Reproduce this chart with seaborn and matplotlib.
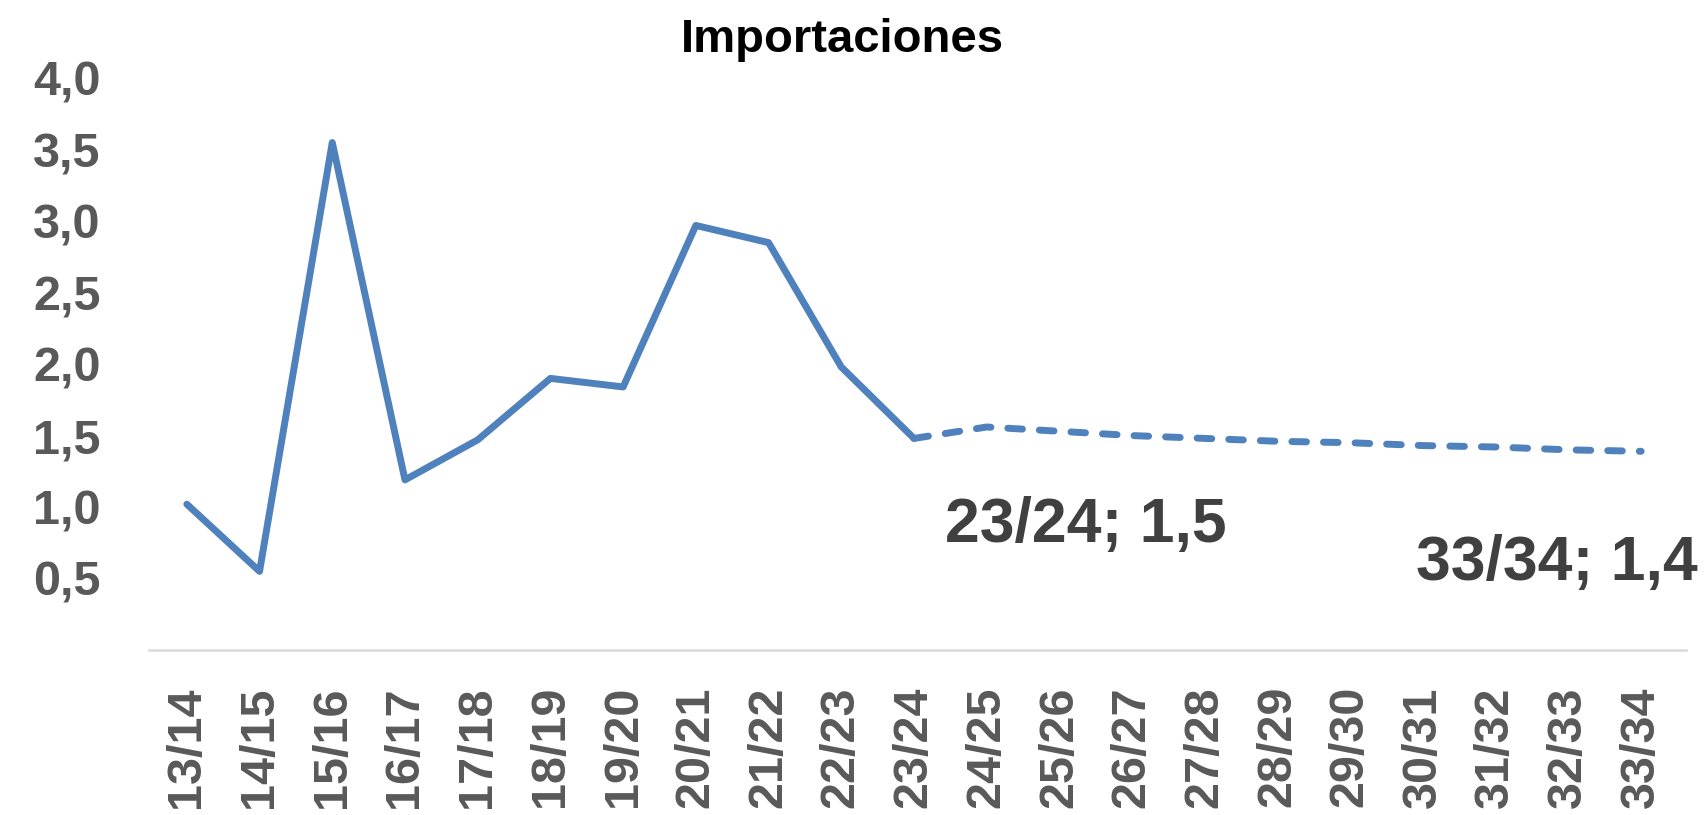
import matplotlib
matplotlib.use("Agg")
import matplotlib.pyplot as plt
import seaborn as sns
import pandas as pd

periodos = ["13/14", "14/15", "15/16", "16/17", "17/18", "18/19", "19/20",
            "20/21", "21/22", "22/23", "23/24", "24/25", "25/26", "26/27",
            "27/28", "28/29", "29/30", "30/31", "31/32", "32/33", "33/34"]
historico = [1.02, 0.55, 3.55, 1.19, 1.47, 1.90, 1.84, 2.97, 2.85, 1.98, 1.48]
proyeccion = [1.48, 1.56, 1.53, 1.50, 1.48, 1.46, 1.45, 1.43, 1.42, 1.40, 1.39]
y_ticks = [0.5, 1.0, 1.5, 2.0, 2.5, 3.0, 3.5, 4.0]

n_hist = len(historico)
df_hist = pd.DataFrame({"x": range(n_hist), "valor": historico})
df_proy = pd.DataFrame({"x": range(n_hist - 1, len(periodos)), "valor": proyeccion})

sns.set_theme(style="white")
plt.rcParams['font.family'] = ['Liberation Sans', 'DejaVu Sans']
plt.rcParams['font.weight'] = 'bold'

azul = "#4F81BD"
fig = plt.figure(figsize=(17.05, 8.15), dpi=100)
ax = fig.add_axes([0.0874, 0.2025, 0.9016, 0.7015])

sns.lineplot(data=df_hist, x="x", y="valor", ax=ax, color=azul, lw=5,
             solid_capstyle="round", solid_joinstyle="round")
sns.lineplot(data=df_proy, x="x", y="valor", ax=ax, color=azul, lw=5,
             linestyle=(0, (2.1, 2.45)), dash_capstyle="round")

ax.set_xlim(-0.52, 20.62)
ax.set_ylim(0, 4.0)
ax.set_xticks(range(len(periodos)))
ax.set_xticklabels(periodos, rotation=90, fontsize=35, fontweight="bold", color="#595959")
ax.set_yticks(y_ticks)
ax.set_yticklabels([f"{v:.1f}".replace(".", ",") for v in y_ticks],
                   fontsize=35, fontweight="bold", color="#595959")
ax.tick_params(axis="x", length=0, pad=26)
ax.tick_params(axis="y", length=0, pad=35)
ax.set_xlabel("")
ax.set_ylabel("")

for s in ["top", "right", "left"]:
    ax.spines[s].set_visible(False)
ax.spines["bottom"].set_color("#D9D9D9")
ax.spines["bottom"].set_linewidth(1.8)
ax.grid(False)

fig.suptitle("Importaciones", x=0.494, y=0.978, va="top",
             fontsize=34, fontweight="bold", color="black")

ax.annotate("23/24; 1,5", xy=(n_hist - 1, historico[-1]), xytext=(124, -63),
            textcoords="offset points", ha="center", va="center",
            fontsize=45, fontweight="bold", color="#404040", annotation_clip=False)
ax.annotate("33/34; 1,4", xy=(len(periodos) - 1, proyeccion[-1]), xytext=(-61, -81),
            textcoords="offset points", ha="center", va="center",
            fontsize=45, fontweight="bold", color="#404040", annotation_clip=False)

fig.savefig("out.png", dpi=100)
